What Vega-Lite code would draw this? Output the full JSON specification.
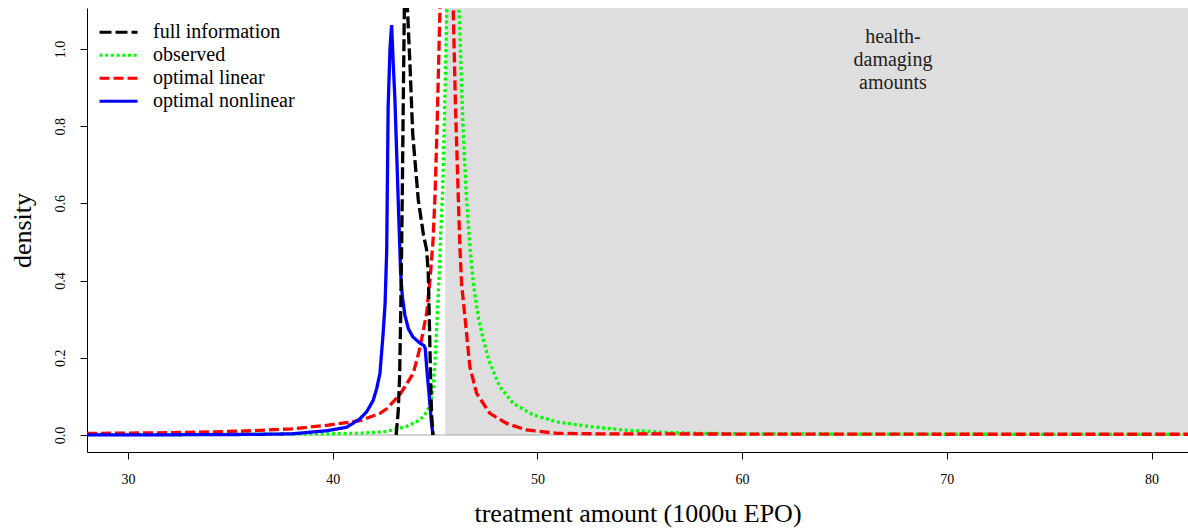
{
  "$schema": "https://vega.github.io/schema/vega-lite/v6.json",
  "width": 1101,
  "height": 444,
  "autosize": {"type": "none"},
  "padding": {"left": 87, "top": 8, "right": 0, "bottom": 77},
  "config": {
    "view": {"stroke": null},
    "font": "Liberation Serif",
    "axis": {"grid": false, "domainColor": "#000000", "tickColor": "#000000", "labelColor": "#000000", "titleColor": "#000000", "labelFont": "Liberation Serif", "titleFont": "Liberation Serif", "titleFontWeight": "normal", "labelFontSize": 14, "titleFontSize": 26, "tickSize": 7, "domainWidth": 1, "tickWidth": 1},
    "legend": {"labelFont": "Liberation Serif"},
    "text": {"font": "Liberation Serif"}
  },
  "datasets": {
    "region": [{"x_start": 45.5, "x_end": 82, "y_start": 0, "y_end": 1.2}],
    "zero": [{"y": 0}],
    "note": [
      {"x": 67.37, "y": 1.031, "label": "health-"},
      {"x": 67.37, "y": 0.9715, "label": "damaging"},
      {"x": 67.37, "y": 0.912, "label": "amounts"}
    ],
    "curves": [
      {"series": "observed", "x": 28, "y": 0.0008},
      {"series": "observed", "x": 30, "y": 0.001},
      {"series": "observed", "x": 32, "y": 0.0012},
      {"series": "observed", "x": 34, "y": 0.0015},
      {"series": "observed", "x": 36, "y": 0.002},
      {"series": "observed", "x": 38, "y": 0.0028},
      {"series": "observed", "x": 39.9, "y": 0.003},
      {"series": "observed", "x": 41.5, "y": 0.005},
      {"series": "observed", "x": 42.64, "y": 0.009},
      {"series": "observed", "x": 43.6, "y": 0.022},
      {"series": "observed", "x": 44.26, "y": 0.039},
      {"series": "observed", "x": 44.6, "y": 0.06},
      {"series": "observed", "x": 44.75, "y": 0.078},
      {"series": "observed", "x": 44.91, "y": 0.12},
      {"series": "observed", "x": 45.0, "y": 0.19},
      {"series": "observed", "x": 45.1, "y": 0.3},
      {"series": "observed", "x": 45.2, "y": 0.41},
      {"series": "observed", "x": 45.3, "y": 0.55},
      {"series": "observed", "x": 45.37, "y": 0.63},
      {"series": "observed", "x": 45.45, "y": 0.8},
      {"series": "observed", "x": 45.52, "y": 0.97},
      {"series": "observed", "x": 45.58, "y": 1.12},
      {"series": "observed", "x": 45.7, "y": 1.45},
      {"series": "observed", "x": 45.86, "y": 1.6},
      {"series": "observed", "x": 46.0, "y": 1.45},
      {"series": "observed", "x": 46.15, "y": 1.12},
      {"series": "observed", "x": 46.22, "y": 1.04},
      {"series": "observed", "x": 46.3, "y": 0.9},
      {"series": "observed", "x": 46.38, "y": 0.78},
      {"series": "observed", "x": 46.54, "y": 0.61},
      {"series": "observed", "x": 46.7, "y": 0.49},
      {"series": "observed", "x": 46.87, "y": 0.393},
      {"series": "observed", "x": 47.11, "y": 0.306},
      {"series": "observed", "x": 47.36, "y": 0.246},
      {"series": "observed", "x": 47.68, "y": 0.186},
      {"series": "observed", "x": 48.17, "y": 0.125},
      {"series": "observed", "x": 48.82, "y": 0.082},
      {"series": "observed", "x": 49.8, "y": 0.052},
      {"series": "observed", "x": 50.94, "y": 0.034},
      {"series": "observed", "x": 52.57, "y": 0.022},
      {"series": "observed", "x": 54.2, "y": 0.013},
      {"series": "observed", "x": 56.64, "y": 0.006},
      {"series": "observed", "x": 57.9, "y": 0.0045},
      {"series": "observed", "x": 60, "y": 0.003},
      {"series": "observed", "x": 65, "y": 0.0025},
      {"series": "observed", "x": 70, "y": 0.002},
      {"series": "observed", "x": 75, "y": 0.0018},
      {"series": "observed", "x": 82, "y": 0.0015},

      {"series": "optimal linear", "x": 28, "y": 0.004},
      {"series": "optimal linear", "x": 30, "y": 0.005},
      {"series": "optimal linear", "x": 32, "y": 0.006},
      {"series": "optimal linear", "x": 34, "y": 0.008},
      {"series": "optimal linear", "x": 36, "y": 0.011},
      {"series": "optimal linear", "x": 38, "y": 0.016},
      {"series": "optimal linear", "x": 39.7, "y": 0.025},
      {"series": "optimal linear", "x": 41.33, "y": 0.037},
      {"series": "optimal linear", "x": 42.31, "y": 0.056},
      {"series": "optimal linear", "x": 42.64, "y": 0.068},
      {"series": "optimal linear", "x": 43.29, "y": 0.105},
      {"series": "optimal linear", "x": 43.94, "y": 0.16},
      {"series": "optimal linear", "x": 44.26, "y": 0.225},
      {"series": "optimal linear", "x": 44.59, "y": 0.315},
      {"series": "optimal linear", "x": 44.75, "y": 0.4},
      {"series": "optimal linear", "x": 44.9, "y": 0.5},
      {"series": "optimal linear", "x": 45.0, "y": 0.62},
      {"series": "optimal linear", "x": 45.1, "y": 0.8},
      {"series": "optimal linear", "x": 45.24, "y": 1.1},
      {"series": "optimal linear", "x": 45.4, "y": 1.5},
      {"series": "optimal linear", "x": 45.56, "y": 1.7},
      {"series": "optimal linear", "x": 45.72, "y": 1.5},
      {"series": "optimal linear", "x": 45.89, "y": 1.1},
      {"series": "optimal linear", "x": 46.0, "y": 0.85},
      {"series": "optimal linear", "x": 46.14, "y": 0.61},
      {"series": "optimal linear", "x": 46.22, "y": 0.48},
      {"series": "optimal linear", "x": 46.3, "y": 0.39},
      {"series": "optimal linear", "x": 46.46, "y": 0.306},
      {"series": "optimal linear", "x": 46.7, "y": 0.177},
      {"series": "optimal linear", "x": 47.03, "y": 0.108},
      {"series": "optimal linear", "x": 47.68, "y": 0.056},
      {"series": "optimal linear", "x": 48.5, "y": 0.03},
      {"series": "optimal linear", "x": 49.47, "y": 0.013},
      {"series": "optimal linear", "x": 50.94, "y": 0.0045},
      {"series": "optimal linear", "x": 53, "y": 0.003},
      {"series": "optimal linear", "x": 60, "y": 0.0025},
      {"series": "optimal linear", "x": 70, "y": 0.002},
      {"series": "optimal linear", "x": 82, "y": 0.002},

      {"series": "optimal nonlinear", "x": 28, "y": 0.0003},
      {"series": "optimal nonlinear", "x": 32, "y": 0.0006},
      {"series": "optimal nonlinear", "x": 36, "y": 0.0015},
      {"series": "optimal nonlinear", "x": 38, "y": 0.003},
      {"series": "optimal nonlinear", "x": 39.7, "y": 0.011},
      {"series": "optimal nonlinear", "x": 40.68, "y": 0.02},
      {"series": "optimal nonlinear", "x": 41.33, "y": 0.042},
      {"series": "optimal nonlinear", "x": 41.66, "y": 0.06},
      {"series": "optimal nonlinear", "x": 41.98, "y": 0.09},
      {"series": "optimal nonlinear", "x": 42.15, "y": 0.12},
      {"series": "optimal nonlinear", "x": 42.31, "y": 0.16},
      {"series": "optimal nonlinear", "x": 42.46, "y": 0.26},
      {"series": "optimal nonlinear", "x": 42.56, "y": 0.34},
      {"series": "optimal nonlinear", "x": 42.64, "y": 0.48},
      {"series": "optimal nonlinear", "x": 42.71, "y": 0.85},
      {"series": "optimal nonlinear", "x": 42.8, "y": 1.0},
      {"series": "optimal nonlinear", "x": 42.88, "y": 1.062},
      {"series": "optimal nonlinear", "x": 42.96, "y": 0.96},
      {"series": "optimal nonlinear", "x": 43.04, "y": 0.87},
      {"series": "optimal nonlinear", "x": 43.12, "y": 0.74},
      {"series": "optimal nonlinear", "x": 43.2, "y": 0.61},
      {"series": "optimal nonlinear", "x": 43.27, "y": 0.5},
      {"series": "optimal nonlinear", "x": 43.32, "y": 0.42},
      {"series": "optimal nonlinear", "x": 43.4, "y": 0.36},
      {"series": "optimal nonlinear", "x": 43.53, "y": 0.31},
      {"series": "optimal nonlinear", "x": 43.7, "y": 0.275},
      {"series": "optimal nonlinear", "x": 43.92, "y": 0.254},
      {"series": "optimal nonlinear", "x": 44.26, "y": 0.238},
      {"series": "optimal nonlinear", "x": 44.45, "y": 0.232},
      {"series": "optimal nonlinear", "x": 44.52, "y": 0.225},
      {"series": "optimal nonlinear", "x": 44.59, "y": 0.177},
      {"series": "optimal nonlinear", "x": 44.72, "y": 0.099},
      {"series": "optimal nonlinear", "x": 44.83, "y": 0.03},
      {"series": "optimal nonlinear", "x": 44.9, "y": 0},

      {"series": "full information", "x": 43.1, "y": 0},
      {"series": "full information", "x": 43.2, "y": 0.06},
      {"series": "full information", "x": 43.27, "y": 0.15},
      {"series": "full information", "x": 43.32, "y": 0.3},
      {"series": "full information", "x": 43.36, "y": 0.45},
      {"series": "full information", "x": 43.4, "y": 0.62},
      {"series": "full information", "x": 43.45, "y": 0.87},
      {"series": "full information", "x": 43.5, "y": 1.1},
      {"series": "full information", "x": 43.57, "y": 1.35},
      {"series": "full information", "x": 43.64, "y": 1.12},
      {"series": "full information", "x": 43.78, "y": 0.954},
      {"series": "full information", "x": 43.91, "y": 0.78},
      {"series": "full information", "x": 44.18, "y": 0.61},
      {"series": "full information", "x": 44.43, "y": 0.52},
      {"series": "full information", "x": 44.59, "y": 0.48},
      {"series": "full information", "x": 44.67, "y": 0.42},
      {"series": "full information", "x": 44.72, "y": 0.3},
      {"series": "full information", "x": 44.75, "y": 0.23},
      {"series": "full information", "x": 44.79, "y": 0.13},
      {"series": "full information", "x": 44.83, "y": 0.056},
      {"series": "full information", "x": 44.9, "y": 0}
    ]
  },
  "layer": [
    {
      "data": {"name": "region"},
      "mark": {"type": "rect", "fill": "#dedede", "clip": true},
      "encoding": {
        "x": {"field": "x_start", "type": "quantitative", "scale": {"domain": [28.0, 81.78], "nice": false, "zero": false},
          "axis": {"values": [30, 40, 50, 60, 70, 80], "title": "treatment amount (1000u EPO)", "labelPadding": 13, "titlePadding": 14}},
        "x2": {"field": "x_end"},
        "y": {"field": "y_start", "type": "quantitative", "scale": {"domain": [-0.044, 1.106], "nice": false, "zero": false},
          "axis": {"values": [0, 0.2, 0.4, 0.6, 0.8, 1.0], "format": ".1f", "labelAngle": -90, "labelAlign": "center", "labelBaseline": "bottom", "labelPadding": 13, "title": "density", "titlePadding": 18}},
        "y2": {"field": "y_end"}
      }
    },
    {
      "data": {"name": "zero"},
      "mark": {"type": "rule", "color": "#a8a8a8", "strokeWidth": 1},
      "encoding": {"y": {"field": "y", "type": "quantitative"}}
    },
    {
      "data": {"name": "curves"},
      "mark": {"type": "line", "clip": true, "strokeWidth": 3.3, "strokeCap": "butt"},
      "encoding": {
        "x": {"field": "x", "type": "quantitative"},
        "y": {"field": "y", "type": "quantitative"},
        "color": {"field": "series", "type": "nominal",
          "scale": {"domain": ["full information", "observed", "optimal linear", "optimal nonlinear"], "range": ["#000000", "#00ff00", "#ff0000", "#0000ff"]},
          "legend": {"title": null, "orient": "none", "legendX": 11, "legendY": 13, "padding": 0, "symbolType": "stroke", "symbolSize": 1444, "symbolStrokeWidth": 3, "clipHeight": 22.3, "rowPadding": 0, "labelOffset": 14, "labelFontSize": 20, "labelFont": "Liberation Serif", "labelColor": "#000000", "labelLimit": 400}},
        "strokeDash": {"field": "series", "type": "nominal",
          "scale": {"domain": ["full information", "observed", "optimal linear", "optimal nonlinear"], "range": [[12, 4], [3, 2.7], [10, 4], [1, 0]]},
          "legend": {"title": null, "orient": "none", "legendX": 11, "legendY": 13, "padding": 0, "symbolType": "stroke", "symbolSize": 1444, "symbolStrokeWidth": 3, "clipHeight": 22.3, "rowPadding": 0, "labelOffset": 14, "labelFontSize": 20, "labelFont": "Liberation Serif", "labelColor": "#000000", "labelLimit": 400}}
      }
    },
    {
      "data": {"name": "note"},
      "mark": {"type": "text", "font": "Liberation Serif", "fontSize": 20, "color": "#222222", "align": "center", "baseline": "middle"},
      "encoding": {
        "x": {"field": "x", "type": "quantitative"},
        "y": {"field": "y", "type": "quantitative"},
        "text": {"field": "label"}
      }
    }
  ]
}
